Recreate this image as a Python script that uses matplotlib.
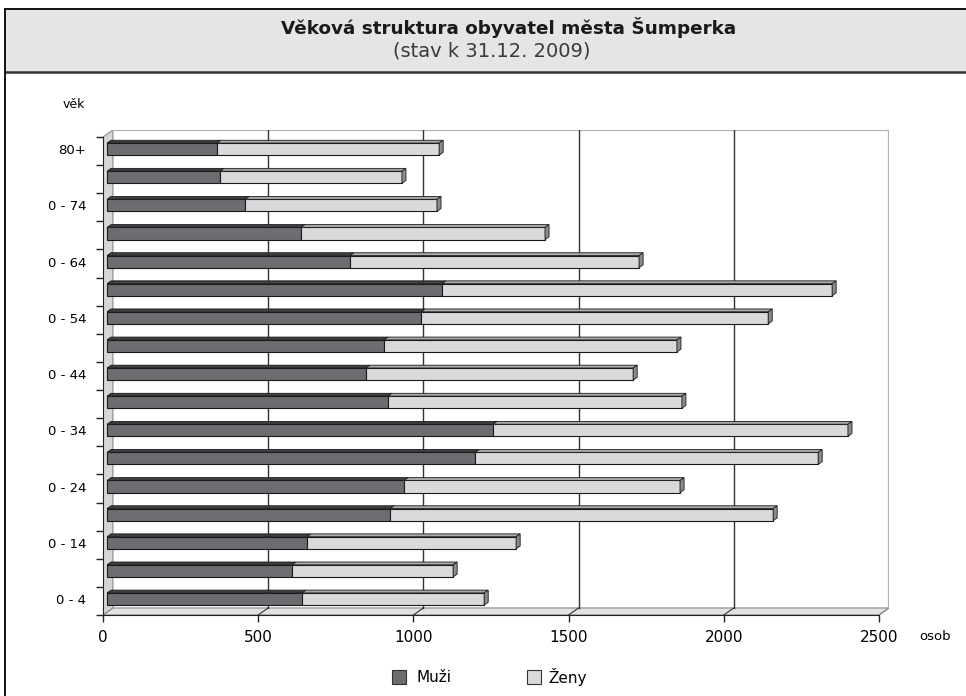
import numpy as np
import matplotlib.pyplot as plt
from matplotlib.patches import Polygon, Rectangle
from matplotlib.lines import Line2D

# age groups from youngest (bottom) to oldest (top)
categories = ['0 - 4', '5 - 9', '10 - 14', '15 - 19', '20 - 24', '25 - 29', '30 - 34',
              '35 - 39', '40 - 44', '45 - 49', '50 - 54', '55 - 59', '60 - 64',
              '65 - 69', '70 - 74', '75 - 79', '80+']
# labels shown on the axis (every second group, as printed in the original)
tick_labels = ['0 - 4', '0 - 14', '0 - 24', '0 - 34', '0 - 44', '0 - 54', '0 - 64', '0 - 74', '80+']
muzi = [628, 596, 644, 912, 957, 1186, 1244, 905, 834, 892, 1012, 1079, 783, 625, 445, 364, 354]
zeny = [587, 519, 674, 1234, 889, 1105, 1143, 947, 861, 944, 1118, 1257, 931, 786, 618, 586, 716]
x_ticks = [0, 500, 1000, 1500, 2000, 2500]

W, H = 966, 696
c_muzi = '#6b6d70'
c_zeny = '#d9dadc'


def fx(x):
    return x / W


def fy(y):
    return 1 - y / H


fig = plt.figure(figsize=(W / 100, H / 100), dpi=100)

# header band and frame
fig.patches.append(Rectangle((fx(5), fy(72)), 1.0, fy(9) - fy(72), transform=fig.transFigure,
                             facecolor='#e5e5e7', edgecolor='none', zorder=0))
fig.lines.append(Line2D([fx(5), 1.0], [fy(9), fy(9)], transform=fig.transFigure, color='#111111', lw=1.4))
fig.lines.append(Line2D([fx(5), 1.0], [fy(72), fy(72)], transform=fig.transFigure, color='#333333', lw=1.8))
fig.lines.append(Line2D([fx(5), fx(5)], [fy(9), 0.0], transform=fig.transFigure, color='#111111', lw=1.4))

fig.text(fx(509), fy(27), 'Věková struktura obyvatel města Šumperka', ha='center', va='center',
         fontsize=13.2, fontweight='bold', color='#1a1a1a')
fig.text(fx(492), fy(51), '(stav k 31.12. 2009)', ha='center', va='center', fontsize=14, color='#3a3a3a')

# plot area
ax = fig.add_axes([fx(103), fy(615), (889 - 103) / W, (615 - 130) / H])
xmax = 2500 * 786 / 776
y0 = -0.57          # front edge of the floor
ytop = 16.68        # top of the back wall
dx, dy = 32, 0.25   # wall depth
ax.set_xlim(0, xmax)
ax.set_ylim(y0, ytop)

# floor, side wall, back wall
ax.add_patch(Polygon([(0, y0), (2500, y0), (2500 + dx, y0 + dy), (dx, y0 + dy)],
                     closed=True, facecolor='#e2e2e4', edgecolor='#888888', lw=0.8, zorder=1))
ax.add_patch(Polygon([(0, y0), (dx, y0 + dy), (dx, ytop), (0, ytop - dy)],
                     closed=True, facecolor='#d6d6d8', edgecolor='#888888', lw=0.8, zorder=1))
ax.plot([dx, 2500 + dx, 2500 + dx], [ytop, ytop, y0 + dy], color='#b0b0b0', lw=1.6, zorder=1)
for v in x_ticks[1:-1]:
    ax.plot([v + dx, v + dx], [y0 + dy, ytop], color='#333333', lw=1.0, zorder=1)
    ax.plot([v, v + dx], [y0, y0 + dy], color='#333333', lw=0.8, zorder=1)
ax.plot([2500, 2500 + dx], [y0, y0 + dy], color='#888888', lw=0.8, zorder=1)

# bars with a small 3D look
pos = np.arange(len(categories))
h = 0.43
x0 = 13
bdx, bdy = 13, 0.1
ax.barh(pos, muzi, height=h, left=x0, color=c_muzi, edgecolor='#1a1a1a', lw=0.8, zorder=3)
ax.barh(pos, zeny, height=h, left=x0 + np.array(muzi), color=c_zeny, edgecolor='#1a1a1a', lw=0.8, zorder=3)
for i, (m, z) in enumerate(zip(muzi, zeny)):
    top = i + h / 2
    for l, r, c in [(x0, x0 + m, '#3e3f42'), (x0 + m, x0 + m + z, '#a9aaac')]:
        ax.add_patch(Polygon([(l, top), (r, top), (r + bdx, top + bdy), (l + bdx, top + bdy)],
                             closed=True, facecolor=c, edgecolor='#1a1a1a', lw=0.6, zorder=3))
    r = x0 + m + z
    ax.add_patch(Polygon([(r, i - h / 2), (r + bdx, i - h / 2 + bdy), (r + bdx, top + bdy), (r, top)],
                         closed=True, facecolor='#8a8b8d', edgecolor='#1a1a1a', lw=0.6, zorder=3))

# axes
for s in ['top', 'right']:
    ax.spines[s].set_visible(False)
ax.spines['left'].set_bounds(y0, ytop - dy)
ax.spines['bottom'].set_bounds(0, 2500)
ax.spines['left'].set_color('#222222')
ax.spines['bottom'].set_color('#222222')
ax.spines['left'].set_zorder(4)
ax.spines['bottom'].set_zorder(4)

ax.set_xticks(x_ticks)
ax.set_xticklabels([str(v) for v in x_ticks], fontsize=11)
ax.tick_params(axis='x', direction='out', length=5, width=1, pad=6, color='#222222')

ax.set_yticks(y0 + np.arange(len(categories) + 1))
ax.set_yticklabels([])
ax.tick_params(axis='y', which='major', direction='out', length=5, width=1, color='#222222')
ax.set_yticks(pos[::2], minor=True)
ax.set_yticklabels(tick_labels, minor=True, fontsize=9.5)
ax.tick_params(axis='y', which='minor', length=0, pad=12)

fig.text(fx(74), fy(104), 'věk', ha='center', va='center', fontsize=9)
fig.text(fx(935), fy(637), 'osob', ha='center', va='center', fontsize=9.5)

# legend
for xs, xt, c, lab in [(392, 416, c_muzi, 'Muži'), (527, 548, c_zeny, 'Ženy')]:
    fig.patches.append(Rectangle((fx(xs), fy(684)), 14 / W, 14 / H, transform=fig.transFigure,
                                 facecolor=c, edgecolor='#333333', lw=0.8))
    fig.text(fx(xt), fy(677), lab, ha='left', va='center', fontsize=11)

fig.savefig('out.png', dpi=100)
